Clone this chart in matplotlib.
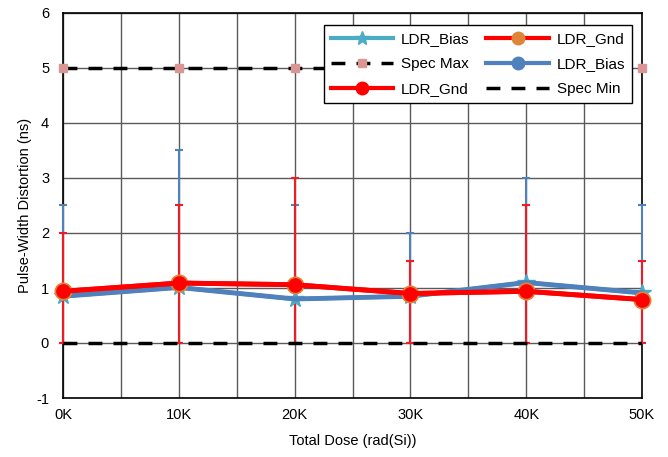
import numpy as np
import matplotlib.pyplot as plt
from matplotlib.lines import Line2D

plt.rcParams['font.family'] = ['Liberation Sans', 'DejaVu Sans']
plt.rcParams['axes.unicode_minus'] = False

# data
dose = [0, 10, 20, 30, 40, 50]          # krad(Si)
dose_labels = ['0K', '10K', '20K', '30K', '40K', '50K']
ldr_bias = [0.85, 1.01, 0.80, 0.85, 1.10, 0.91]
ldr_gnd = [0.94, 1.09, 1.06, 0.90, 0.94, 0.79]
bias_upper = [2.5, 3.5, 2.5, 2.0, 3.0, 2.5]
gnd_upper = [2.0, 2.5, 3.0, 1.5, 2.5, 1.5]
spec_max = [5, 5, 5, 5, 5, 5]
spec_min = [0, 0, 0, 0, 0, 0]

teal = '#4bacc6'
blue = '#4f81bd'
orange = '#e0843a'
pink = '#d99694'

fig = plt.figure(figsize=(6.68, 4.57), dpi=100)
ax = fig.add_axes([63/668, 1-398/457, (642-63)/668, (398-13)/457])

# grid
ax.set_xlim(0, 50)
ax.set_ylim(-1, 6)
ax.set_xticks(dose)
ax.set_xticklabels(dose_labels)
ax.set_xticks(np.arange(5, 50, 10), minor=True)
ax.set_yticks(range(-1, 7))
ax.grid(True, which='both', color='#5a5a5a', lw=1.0, zorder=0)
ax.set_axisbelow(True)
ax.tick_params(which='both', length=0, labelsize=10.5, colors='black')
ax.tick_params(axis='x', pad=7)
ax.tick_params(axis='y', pad=10)
for s in ax.spines.values():
    s.set_color('black')
    s.set_linewidth(1.2)

# error bars (lower ends at 0)
b = np.array(ldr_bias)
g = np.array(ldr_gnd)
ax.errorbar(dose, b, yerr=[b, np.array(bias_upper) - b], fmt='none',
            ecolor=blue, elinewidth=1.5, capsize=3, capthick=1.5, zorder=3,
            clip_on=False)
ax.errorbar(dose, g, yerr=[g, np.array(gnd_upper) - g], fmt='none',
            ecolor='#ee1c25', elinewidth=1.5, capsize=3, capthick=1.5, zorder=4,
            clip_on=False)

# spec lines
ax.plot(dose, spec_max, color='black', lw=2.5, ls=(0, (4, 3.2)), zorder=5,
        marker='s', ms=6, mfc=pink, mec=pink, clip_on=False)
ax.plot(dose, spec_min, color='black', lw=2.5, ls=(0, (4, 3.2)), zorder=5)

# LDR_Bias series
ax.plot(dose, ldr_bias, color=teal, lw=3, marker='*', ms=13, mfc=teal,
        mec=teal, zorder=6, clip_on=False)
ax.plot(dose, ldr_bias, color=blue, lw=3.5, zorder=7, clip_on=False)

# LDR_Gnd series
ax.plot(dose, ldr_gnd, color='red', lw=3.5, marker='o', ms=12, mfc=orange,
        mec=orange, zorder=8, clip_on=False)
ax.plot(dose, ldr_gnd, color='red', lw=3.5, marker='o', ms=9.5, mfc='red',
        mec='red', zorder=9, clip_on=False)

ax.set_xlabel('Total Dose (rad(Si))', fontsize=10.5, labelpad=9)
ax.set_ylabel('Pulse-Width Distortion (ns)', fontsize=10.5, labelpad=3)

handles = [
    Line2D([], [], color=teal, lw=3, marker='*', ms=10, mfc=teal, mec=teal),
    Line2D([], [], color='black', lw=2.5, ls=(0, (4, 3.2)), marker='s', ms=6,
           mfc=pink, mec=pink),
    Line2D([], [], color='red', lw=3, marker='o', ms=9, mfc='red', mec='red'),
    Line2D([], [], color='red', lw=3, marker='o', ms=9, mfc=orange, mec=orange),
    Line2D([], [], color=blue, lw=3, marker='o', ms=9, mfc=blue, mec=blue),
    Line2D([], [], color='black', lw=2.5, ls=(0, (4, 3.2))),
]
labels = ['LDR_Bias', 'Spec Max', 'LDR_Gnd', 'LDR_Gnd', 'LDR_Bias', 'Spec Min']
leg = ax.legend(handles, labels, ncol=2, loc='upper right',
                bbox_to_anchor=((632-63)/579, (398-25)/385), borderaxespad=0,
                fontsize=11, frameon=True, fancybox=False,
                edgecolor='black', framealpha=1,
                handlelength=4.1, columnspacing=1.1, labelspacing=0.72,
                borderpad=0.45, handletextpad=0.5)
leg.get_frame().set_linewidth(1.0)
leg.set_zorder(20)

fig.savefig('out.png', dpi=100)
